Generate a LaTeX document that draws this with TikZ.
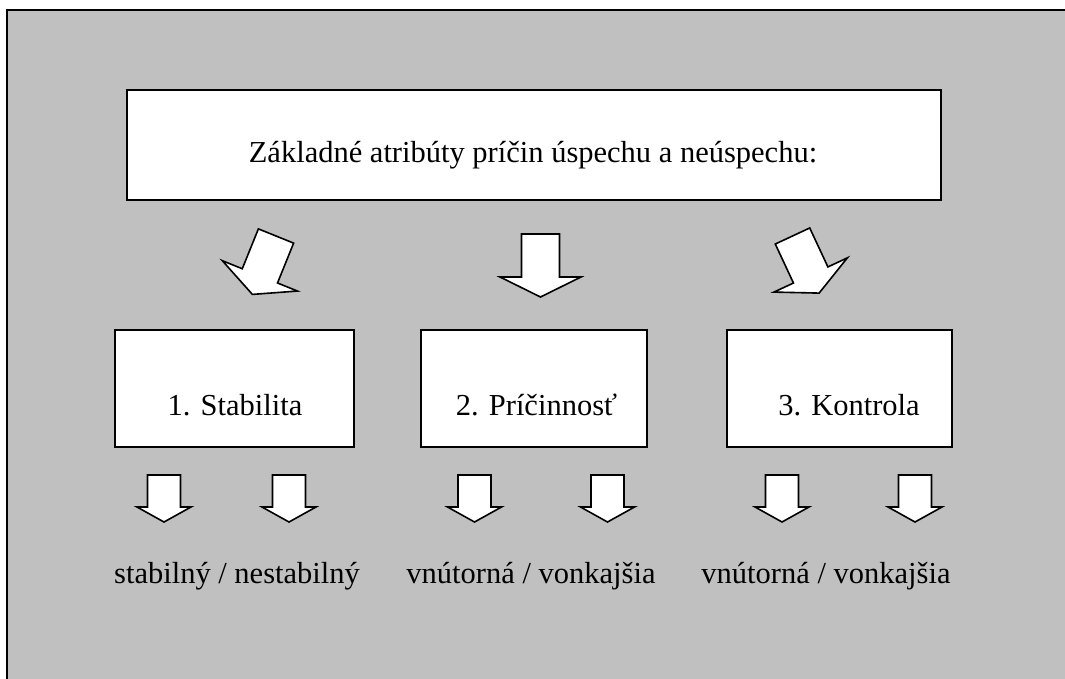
\documentclass[tikz,border=0pt]{standalone}
\usepackage{fontspec}
\setmainfont{Liberation Serif}
\definecolor{panelgray}{RGB}{192,192,192}
\tikzset{
  panelline/.style={draw=black, line width=2pt},
  box/.style={draw=black, fill=white, line width=2.2pt, inner sep=0pt},
  txt/.style={anchor=base, inner sep=0pt, font=\fontsize{30.5}{36}\selectfont},
  arrowshape/.style={draw=black, fill=white, line width=1.6pt, line join=miter},
  bigarrow/.pic={
    \draw[arrowshape] (-19,0) -- (19,0) -- (19,43) -- (40.5,43) -- (0,63)
      -- (-40.5,43) -- (-19,43) -- cycle;
  },
  smallarrow/.pic={
    \draw[arrowshape] (-16.5,0) -- (16.5,0) -- (16.5,32) -- (27,32) -- (0,47)
      -- (-27,32) -- (-16.5,32) -- cycle;
  }
}
\begin{document}
\begin{tikzpicture}[x=1pt,y=-1pt]
  \useasboundingbox (0,0) rectangle (1065,679);
  \fill[white] (0,0) rectangle (1065,679);
  % grey panel, running off the right and bottom edges
  \fill[panelgray] (7,10) rectangle (1065,679);
  \draw[panelline] (7,679) -- (7,10) -- (1065,10);

  % heading box
  \node[box, minimum width=814pt, minimum height=110pt] (head) at (534,145) {};
  \node[txt] (headtxt) at (533,163) {Základné atribúty príčin úspechu a neúspechu:};

  % three attribute boxes
  \node[box, minimum width=239pt, minimum height=117pt] (b1) at (234.5,388.5) {};
  \node[box, minimum width=226pt, minimum height=117pt] (b2) at (534,388.5) {};
  \node[box, minimum width=225pt, minimum height=117pt] (b3) at (839.5,388.5) {};
  \node[txt] (t1) at (235,415) {1. Stabilita};
  \node[txt] (t2) at (536.5,415) {2. Príčinnosť};
  \node[txt] (t3) at (849,415) {3. Kontrola};

  % block arrows from the heading to the boxes
  \pic[rotate=-22] at (276,236) {bigarrow};
  \pic at (540.5,234) {bigarrow};
  \pic[rotate=25] at (792.5,236) {bigarrow};

  % small arrows under each box
  \pic at (164,475) {smallarrow};
  \pic at (289,475) {smallarrow};
  \pic at (474.5,475) {smallarrow};
  \pic at (607.5,475) {smallarrow};
  \pic at (782,475) {smallarrow};
  \pic at (915,475) {smallarrow};

  % value pairs
  \node[txt] (v1) at (237,583) {stabilný / nestabilný};
  \node[txt] (v2) at (531,583) {vnútorná / vonkajšia};
  \node[txt] (v3) at (826,583) {vnútorná / vonkajšia};
\end{tikzpicture}
\end{document}
